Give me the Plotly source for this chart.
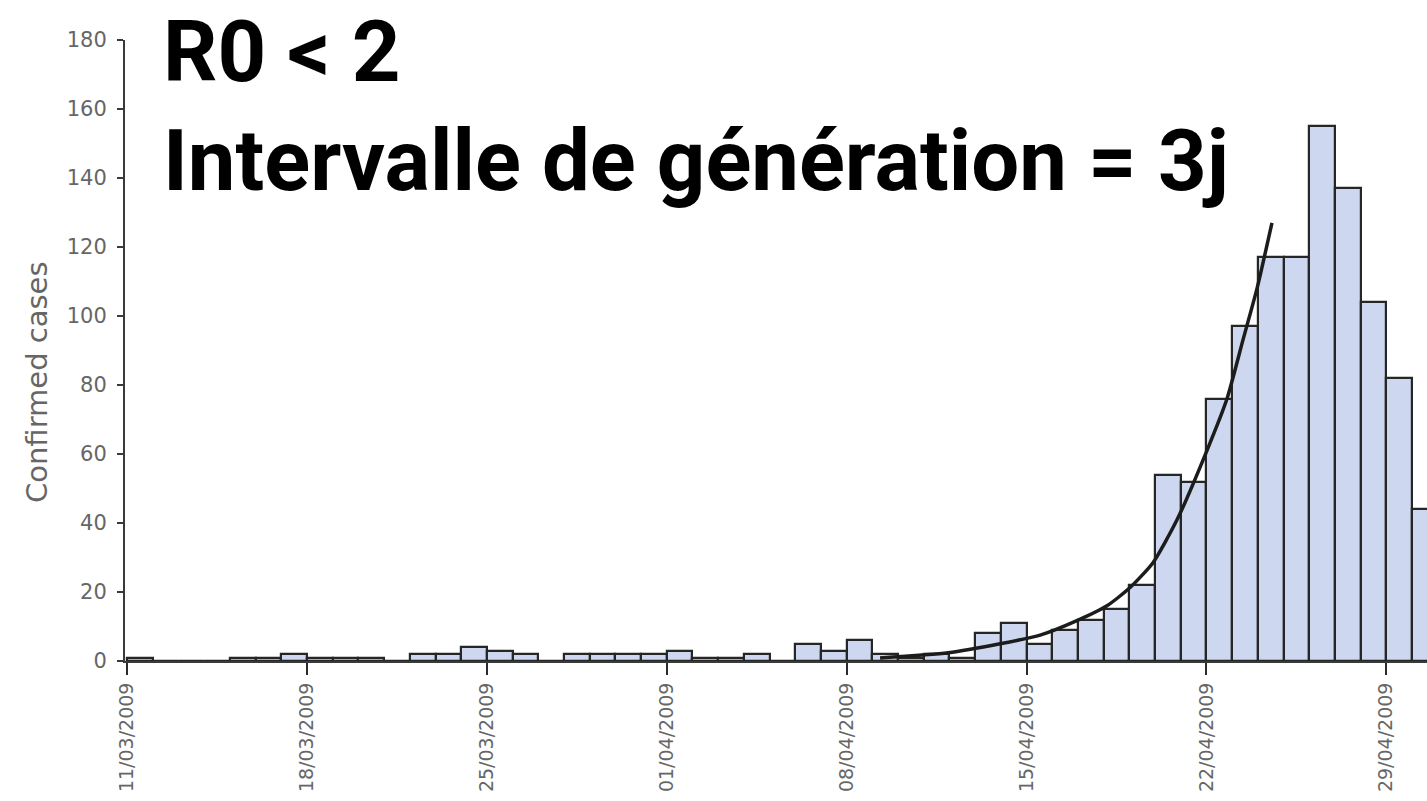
import pandas as pd
import plotly.graph_objects as go

# Daily confirmed cases, 11/03/2009 to 30/04/2009
start_date = "2009-03-11"
confirmed_cases = [
    1, 0, 0, 0, 1, 1, 2, 1, 1, 1,
    0, 2, 2, 4, 3, 2, 0, 2, 2, 2,
    2, 3, 1, 1, 2, 0, 5, 3, 6, 2,
    1, 2, 1, 8, 11, 5, 9, 12, 15, 22,
    54, 52, 76, 97, 117, 117, 155, 137, 104, 82,
    44,
]

# Exponential growth curve (days after 11/03/2009, cases)
curve_days = [29.3, 31.95, 33.97, 35.53, 36.96, 38.13, 39.03, 39.92,
              40.86, 42.02, 42.80, 43.42, 43.97, 44.55]
curve_cases = [0.9, 2.4, 5.0, 7.5, 11.7, 16.0, 21.3, 28.5,
               41.0, 61.0, 76.0, 93.0, 108.0, 127.0]

title_line1 = "R0 < 2"
title_line2 = "Intervalle de génération = 3j"
y_title = "Confirmed cases"

dates = pd.date_range(start_date, periods=len(confirmed_cases), freq="D")
curve_x = [pd.Timestamp(start_date) + pd.Timedelta(days=d) for d in curve_days]

DAY_MS = 86400000

fig = go.Figure()

fig.add_trace(go.Bar(
    x=dates,
    y=confirmed_cases,
    width=[DAY_MS] * len(dates),
    offset=0,
    marker=dict(color="#cdd7ef", line=dict(color="#262626", width=2.2)),
    showlegend=False,
))

fig.add_trace(go.Scatter(
    x=curve_x,
    y=curve_cases,
    mode="lines",
    line=dict(color="#1c1c1c", width=3.5, shape="spline", smoothing=0.6),
    showlegend=False,
))

title_font = dict(family="Roboto", size=85, color="black", weight=700)

fig.update_layout(
    width=1427,
    height=801,
    margin=dict(l=125, r=0, t=40, b=140),
    paper_bgcolor="white",
    plot_bgcolor="white",
    bargap=0,
    font=dict(family="DejaVu Sans", color="#666666"),
    xaxis=dict(
        type="date",
        range=["2009-03-10 22:00", "2009-04-30 14:00"],
        tick0=start_date,
        dtick=7 * DAY_MS,
        tickformat="%d/%m/%Y",
        tickangle=-90,
        tickfont=dict(size=19, color="#666666"),
        ticks="outside",
        ticklen=12,
        tickwidth=2,
        tickcolor="#2b2b2b",
        showline=True,
        linecolor="#3a3a3a",
        linewidth=2,
        showgrid=False,
        zeroline=False,
        fixedrange=True,
    ),
    yaxis=dict(
        range=[0, 180],
        tickvals=[0, 20, 40, 60, 80, 100, 120, 140, 160, 180],
        tickfont=dict(size=21, color="#666666"),
        ticks="outside",
        ticklen=6,
        tickwidth=2,
        tickcolor="#3a3a3a",
        ticklabelstandoff=6,
        showline=True,
        linecolor="#3a3a3a",
        linewidth=2,
        showgrid=False,
        zeroline=False,
        fixedrange=True,
    ),
    annotations=[
        dict(
            text=y_title,
            xref="paper", yref="paper",
            x=-(125 - 37) / 1302, y=(661 - 382) / 621,
            xanchor="center", yanchor="middle",
            textangle=-90,
            showarrow=False,
            font=dict(family="DejaVu Sans", size=29, color="#666666"),
        ),
        dict(
            text=title_line1,
            xref="paper", yref="paper",
            x=(161 - 125) / 1302, y=(661 - 0.5) / 621,
            xanchor="left", yanchor="top",
            showarrow=False,
            font=title_font,
        ),
        dict(
            text=title_line2,
            xref="paper", yref="paper",
            x=(161 - 125) / 1302, y=(661 - 109) / 621,
            xanchor="left", yanchor="top",
            showarrow=False,
            font=title_font,
        ),
    ],
)

fig.write_html("out.html")
